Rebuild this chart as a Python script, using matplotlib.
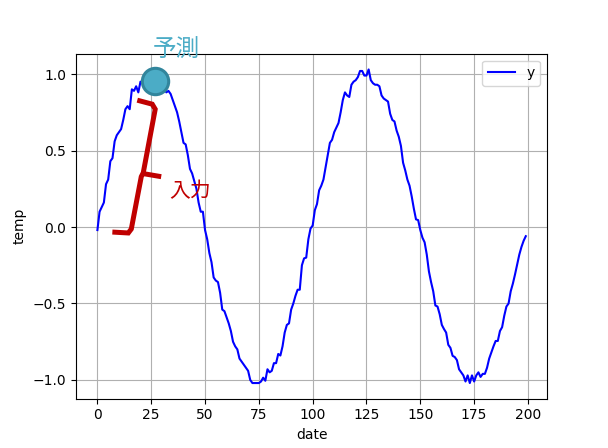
import matplotlib
matplotlib.use("Agg")
import matplotlib.pyplot as plt
import numpy as np

# ---- data ----
dates = list(range(200))
temp = [
    -0.02, 0.10, 0.13, 0.16, 0.28, 0.31, 0.43, 0.45, 0.56, 0.60,
    0.62, 0.64, 0.70, 0.77, 0.79, 0.77, 0.90, 0.89, 0.92, 0.88,
    0.95, 0.94, 0.96, 0.98, 0.99, 0.98, 1.00, 0.97, 0.96, 0.95,
    0.93, 0.91, 0.88, 0.89, 0.87, 0.83, 0.79, 0.75, 0.69, 0.62,
    0.55, 0.54, 0.47, 0.38, 0.35, 0.30, 0.25, 0.16, 0.10, 0.10,
    -0.02, -0.08, -0.17, -0.23, -0.33, -0.35, -0.36, -0.43, -0.54, -0.55,
    -0.59, -0.63, -0.68, -0.75, -0.78, -0.80, -0.86, -0.88, -0.90, -0.92,
    -0.94, -1.00, -1.02, -1.02, -1.02, -1.02, -1.01, -0.985, -1.005, -0.93,
    -0.95, -0.94, -0.89, -0.89, -0.83, -0.84, -0.78, -0.69, -0.64, -0.63,
    -0.54, -0.50, -0.45, -0.41, -0.41, -0.25, -0.205, -0.20, -0.08, -0.01,
    0.01, 0.11, 0.15, 0.24, 0.27, 0.31, 0.39, 0.47, 0.55, 0.57,
    0.62, 0.65, 0.68, 0.75, 0.83, 0.88, 0.86, 0.85, 0.93, 0.95,
    0.96, 0.98, 1.02, 1.02, 0.99, 0.99, 1.03, 0.96, 0.94, 0.93,
    0.93, 0.92, 0.86, 0.84, 0.83, 0.82, 0.74, 0.70, 0.69, 0.63,
    0.59, 0.53, 0.42, 0.37, 0.31, 0.27, 0.20, 0.12, 0.05, 0.045,
    -0.02, -0.07, -0.10, -0.18, -0.29, -0.36, -0.42, -0.513, -0.52, -0.57,
    -0.64, -0.667, -0.69, -0.77, -0.79, -0.842, -0.85, -0.87, -0.93, -0.95,
    -0.97, -1.01, -0.97, -1.02, -0.97, -1.01, -0.97, -0.95, -0.98, -0.96,
    -0.96, -0.92, -0.86, -0.82, -0.78, -0.745, -0.745, -0.68, -0.655, -0.58,
    -0.52, -0.50, -0.42, -0.37, -0.31, -0.245, -0.18, -0.13, -0.09, -0.06,
]

# annotation: predicted point and input bracket (data coordinates)
pred_x = [26.85]
pred_y = [0.956]
bracket_x = [6.94, 14.35, 15.74, 20.37, 21.30, 26.85, 25.46, 18.52]
bracket_y = [-0.033, -0.039, -0.013, 0.329, 0.355, 0.770, 0.803, 0.829]
notch_x = [21.3, 29.63]
notch_y = [0.349, 0.329]
pred_label = "予測"
input_label = "入力"

cjk = ["Noto Sans CJK JP", "DejaVu Sans"]

fig, ax = plt.subplots(figsize=(6.08, 4.48), dpi=100)
ax.plot(dates, temp, color="blue", label="y")
ax.grid(True)
ax.set_xlabel("date")
ax.set_ylabel("temp")
ax.legend(loc="upper right")

ax.plot(bracket_x, bracket_y, color="#c00000", lw=3.6,
        solid_joinstyle="miter", solid_capstyle="butt", zorder=3)
ax.plot(notch_x, notch_y, color="#c00000", lw=3.6,
        solid_capstyle="butt", zorder=3)
ax.plot(pred_x, pred_y, "o", ms=19, mfc="#4bacc6", mec="#31859c", mew=2.2,
        zorder=4, clip_on=False)

ax.text(36.6, 1.155, pred_label, color="#4bacc6", fontsize=17, family=cjk,
        ha="center", va="center", clip_on=False)
ax.text(43.3, 0.234, input_label, color="#c00000", fontsize=15, family=cjk,
        ha="center", va="center")

fig.savefig("out.png", dpi=100)
